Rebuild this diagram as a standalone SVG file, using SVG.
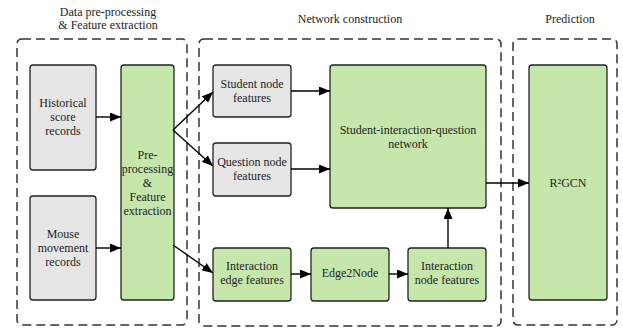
<svg xmlns="http://www.w3.org/2000/svg" width="623" height="330" viewBox="0 0 623 330" font-family="'Liberation Serif', 'DejaVu Serif', serif">
<style>
text{font-family:'Liberation Serif','DejaVu Serif',serif;font-size:12px;fill:#222;text-anchor:middle;dominant-baseline:central}
.grp{fill:none;stroke:#333;stroke-width:1.5;stroke-dasharray:9 5}
.gray{fill:#e6e6e6;stroke:#222;stroke-width:1.3}
.green{fill:#c5e7ac;stroke:#222;stroke-width:1.3}
.conn line{stroke:#000;stroke-width:1.4;fill:none;marker-end:url(#ah)}
</style>
<defs>
<marker id="ah" markerUnits="userSpaceOnUse" markerWidth="11" markerHeight="9" refX="11" refY="4.5" orient="auto">
<path d="M0,0 L11,4.5 L0,9 z" fill="#000"/>
</marker>
</defs>
<rect width="623" height="330" fill="#fff"/>
<g id="group-preprocessing">
<rect class="grp" x="17" y="39" width="170" height="286" rx="5"/>
<text x="108" y="12">Data pre-processing</text>
<text x="108" y="25">&amp; Feature extraction</text>
</g>
<g id="group-network">
<rect class="grp" x="199" y="39" width="302" height="287" rx="5"/>
<text x="350" y="19">Network construction</text>
</g>
<g id="group-prediction">
<rect class="grp" x="513" y="39" width="104" height="286" rx="5"/>
<text x="570" y="19">Prediction</text>
</g>
<g id="historical">
<rect class="gray" x="30" y="65" width="66" height="105" rx="3"/>
<text x="63" y="103">Historical</text>
<text x="63" y="117">score</text>
<text x="63" y="131">records</text>
</g>
<g id="mouse">
<rect class="gray" x="30" y="196" width="66" height="104" rx="3"/>
<text x="63" y="234">Mouse</text>
<text x="63" y="248">movement</text>
<text x="63" y="262">records</text>
</g>
<g id="preprocessing">
<rect class="green" x="121" y="65" width="53" height="235" rx="3"/>
<text x="147.5" y="155">Pre-</text>
<text x="147.5" y="169">processing</text>
<text x="147.5" y="183">&amp;</text>
<text x="147.5" y="197">Feature</text>
<text x="147.5" y="211">extraction</text>
</g>
<g id="student-node">
<rect class="gray" x="213" y="65" width="78" height="52" rx="3"/>
<text x="252" y="84">Student node</text>
<text x="252" y="98">features</text>
</g>
<g id="question-node">
<rect class="gray" x="213" y="143" width="78" height="53" rx="3"/>
<text x="252" y="162">Question node</text>
<text x="252" y="176">features</text>
</g>
<g id="siq-network">
<rect class="green" x="330" y="65" width="156" height="143" rx="3"/>
<text x="408" y="130">Student-interaction-question</text>
<text x="408" y="144">network</text>
</g>
<g id="interaction-edge">
<rect class="green" x="213" y="248" width="78" height="53" rx="3"/>
<text x="252" y="266">Interaction</text>
<text x="252" y="280">edge features</text>
</g>
<g id="edge2node">
<rect class="green" x="311" y="248" width="78" height="53" rx="3"/>
<text x="350" y="273">Edge2Node</text>
</g>
<g id="interaction-node">
<rect class="green" x="408" y="248" width="78" height="53" rx="3"/>
<text x="447" y="266">Interaction</text>
<text x="447" y="280">node features</text>
</g>
<g id="r2gcn">
<rect class="green" x="529" y="65" width="78" height="235" rx="3"/>
<text x="568" y="183">R²GCN</text>
</g>
<g id="connectors" class="conn">
<line x1="96" y1="117" x2="121" y2="117"/>
<line x1="96" y1="248" x2="121" y2="248"/>
<line x1="173" y1="130" x2="213" y2="92"/>
<line x1="173" y1="130" x2="213" y2="166"/>
<line x1="173" y1="245" x2="213" y2="273"/>
<line x1="291" y1="91" x2="330" y2="91"/>
<line x1="291" y1="169" x2="330" y2="169"/>
<line x1="291" y1="274" x2="311" y2="274"/>
<line x1="389" y1="274" x2="408" y2="274"/>
<line x1="448" y1="248" x2="448" y2="208"/>
<line x1="486" y1="183" x2="529" y2="183"/>
</g>
</svg>
